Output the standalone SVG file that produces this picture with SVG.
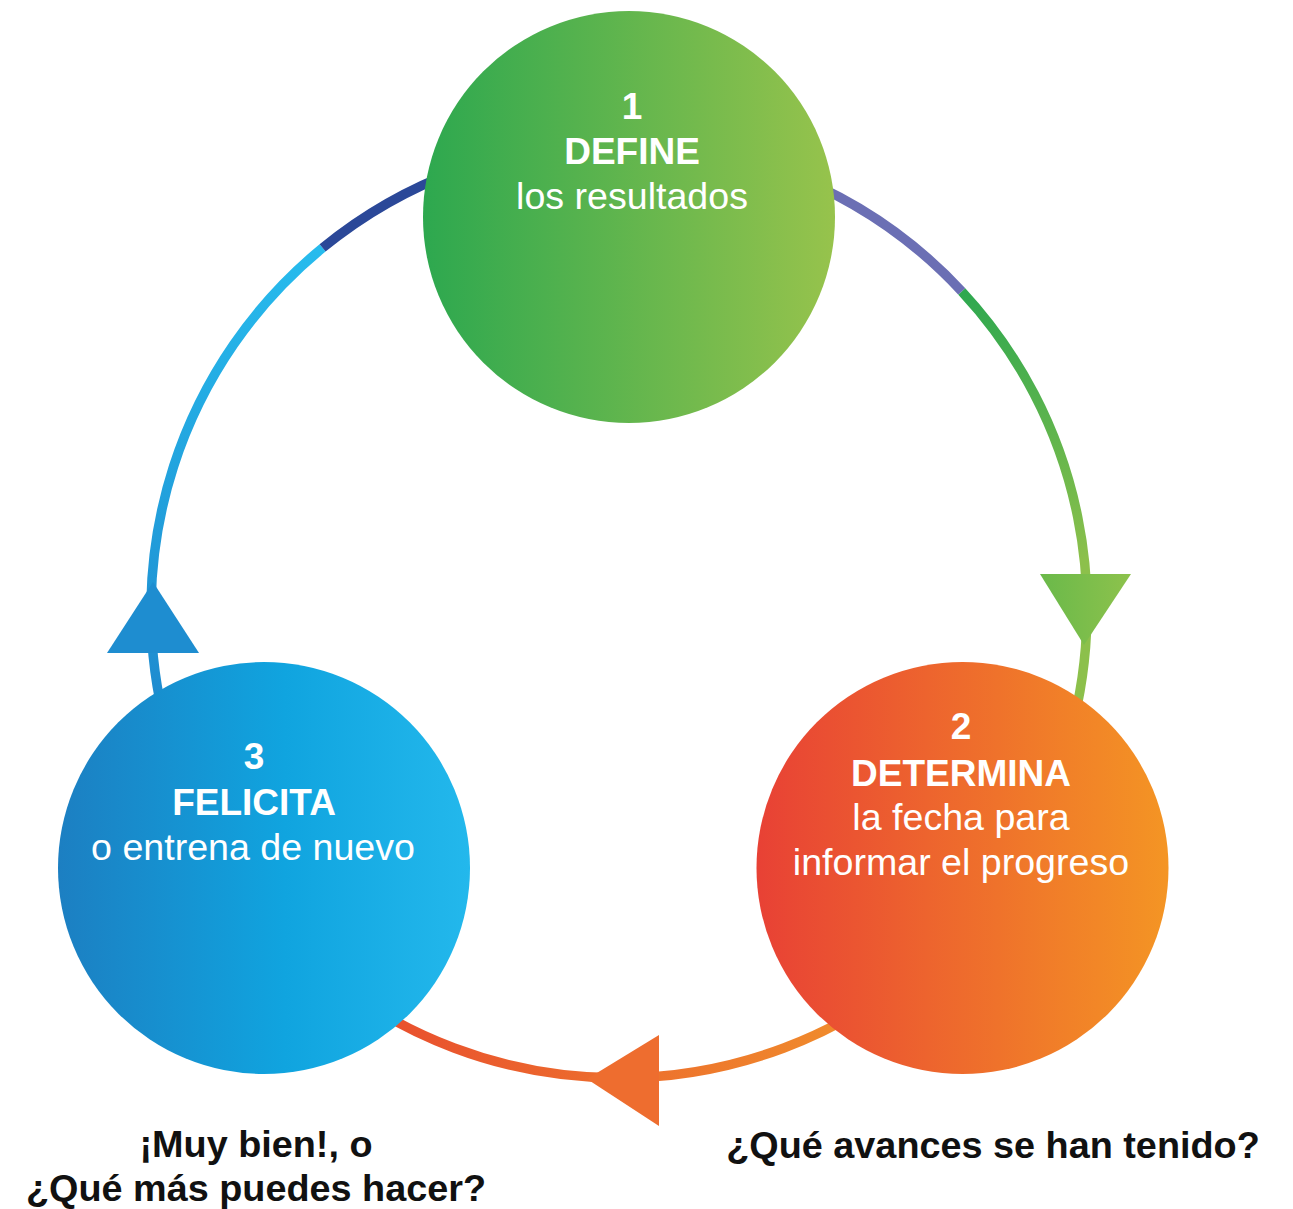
<svg xmlns="http://www.w3.org/2000/svg" width="1293" height="1209" viewBox="0 0 1293 1209">
<defs>
<linearGradient id="g1" x1="0" y1="0" x2="1" y2="0"><stop offset="0" stop-color="#2da84f"/><stop offset="1" stop-color="#97c34c"/></linearGradient>
<linearGradient id="g2" x1="0" y1="0" x2="1" y2="0"><stop offset="0" stop-color="#e84135"/><stop offset="1" stop-color="#f49524"/></linearGradient>
<linearGradient id="g3" x1="0" y1="0" x2="1" y2="0"><stop offset="0" stop-color="#1c7fc2"/><stop offset="0.55" stop-color="#10a4df"/><stop offset="1" stop-color="#23b8ec"/></linearGradient>
<linearGradient id="gGreen" gradientUnits="userSpaceOnUse" x1="0" y1="292" x2="0" y2="560"><stop offset="0" stop-color="#2ea84f"/><stop offset="1" stop-color="#8cc04b"/></linearGradient>
<linearGradient id="gGreenArrow" gradientUnits="userSpaceOnUse" x1="1040" y1="0" x2="1131" y2="0"><stop offset="0" stop-color="#6ab94a"/><stop offset="1" stop-color="#8dc24c"/></linearGradient>
<linearGradient id="gOrange" gradientUnits="userSpaceOnUse" x1="400" y1="0" x2="840" y2="0"><stop offset="0" stop-color="#e9512e"/><stop offset="1" stop-color="#f08b2c"/></linearGradient>
<linearGradient id="gBlue" gradientUnits="userSpaceOnUse" x1="0" y1="700" x2="0" y2="250"><stop offset="0" stop-color="#1e8bcf"/><stop offset="1" stop-color="#27bbed"/></linearGradient>
</defs>
<style>
.ring{fill:none;stroke-width:9.5;stroke-linecap:butt}
.t{font-family:"Liberation Sans",Arial,Helvetica,sans-serif;text-anchor:middle;fill:#ffffff}
.b{font-weight:bold}
.n{font-size:37px}
.s{font-size:37.6px}
.q{font-family:"Liberation Sans",Arial,Helvetica,sans-serif;text-anchor:middle;fill:#111111;font-weight:bold;font-size:37.8px}
</style>
<g id="connectors">
<path class="ring" stroke="#6b6fb4" d="M779.1,170.2 A468,468 0 0 1 961.8,291.4"/>
<path class="ring" stroke="url(#gGreen)" d="M961.8,291.4 A468,468 0 0 1 1058.8,770.1"/>
<polygon points="1040,574 1131,574 1084,645" fill="url(#gGreenArrow)"/>
<path class="ring" stroke="url(#gOrange)" d="M919.8,968.5 A468,468 0 0 1 318.2,968.5"/>
<polygon points="659,1035 659,1126 587,1079" fill="#ee6d2f"/>
<path class="ring" stroke="url(#gBlue)" d="M166.9,731.1 A468,468 0 0 1 322.6,247.9"/>
<path class="ring" stroke="#2b4898" d="M322.6,247.9 A468,468 0 0 1 458.9,170.2"/>
<polygon points="107,653 199,653 153,582" fill="#1e8dd0"/>
</g>
<g id="node1">
<circle cx="629" cy="217" r="206" fill="url(#g1)"/>
<text class="t b n" x="632" y="119">1</text>
<text class="t b n" x="632" y="164">DEFINE</text>
<text class="t s" x="632" y="209">los resultados</text>
</g>
<g id="node2">
<circle cx="962.5" cy="868" r="206" fill="url(#g2)"/>
<text class="t b n" x="961" y="739">2</text>
<text class="t b n" x="961" y="786">DETERMINA</text>
<text class="t s" x="961" y="830">la fecha para</text>
<text class="t s" x="961" y="875">informar el progreso</text>
</g>
<g id="node3">
<circle cx="264" cy="868" r="206" fill="url(#g3)"/>
<text class="t b n" x="254" y="769">3</text>
<text class="t b n" x="254" y="815">FELICITA</text>
<text class="t s" x="253" y="860">o entrena de nuevo</text>
</g>
<g id="captions">
<text class="q" x="256" y="1157">¡Muy bien!, o</text>
<text class="q" x="256" y="1201">¿Qué más puedes hacer?</text>
<text class="q" x="993" y="1158">¿Qué avances se han tenido?</text>
</g>
</svg>
